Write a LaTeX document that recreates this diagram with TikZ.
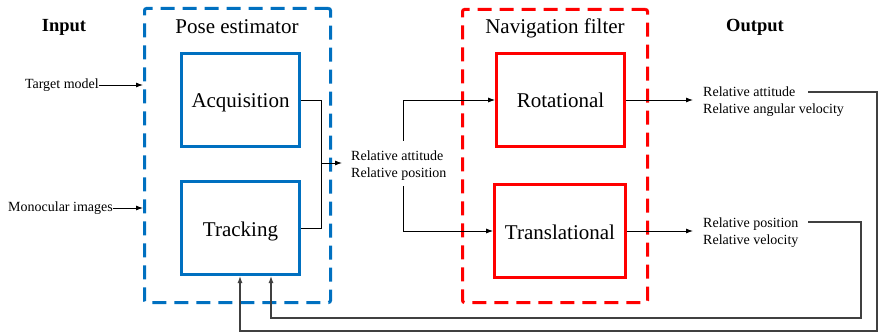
\documentclass[tikz,border=0pt]{standalone}
\usepackage{fontspec}
\setmainfont{Liberation Serif}
\usetikzlibrary{arrows.meta}
\definecolor{peblue}{HTML}{0070C0}
\definecolor{nfred}{HTML}{FF0000}
\definecolor{fbgray}{HTML}{404040}
\tikzset{
  group/.style={draw=#1, line width=3pt, dash pattern=on 14pt off 8pt, rounded corners=2pt, inner sep=0pt},
  block/.style={draw=#1, line width=3.2pt, inner sep=0pt, text height=16pt, text depth=0pt, font=\fontsize{21}{25}\selectfont},
  title/.style={font=\fontsize{21}{25}\selectfont, inner sep=0pt, anchor=base},
  header/.style={font=\fontsize{18.5}{22}\selectfont\bfseries, inner sep=0pt, anchor=base},
  small/.style={font=\fontsize{14}{17}\selectfont, align=left},
  tip/.style={-{Latex[length=7pt,width=5pt]}},
  conn/.style={line width=0.9pt, tip},
  wire/.style={line width=0.9pt},
  feed/.style={draw=fbgray, line width=1.2pt},
}
\begin{document}
\begin{tikzpicture}[x=1pt, y=-1pt]
\useasboundingbox (0,0) rectangle (878,334);

% group frames
\node[group=peblue, minimum width=186pt, minimum height=294pt] (pose) at (237.5,155.5) {};
\node[group=nfred, minimum width=185pt, minimum height=293pt] (nav) at (555,156) {};

% titles and headers
\node[title] (posetitle) at (237,34) {Pose estimator};
\node[title] (navtitle) at (555,34) {Navigation filter};
\node[header] (input) at (64,32) {Input};
\node[header] (output) at (755,32) {Output};

% blocks
\node[block=peblue, minimum width=118pt, minimum height=93pt] (acq) at (240.5,100) {Acquisition};
\node[block=peblue, minimum width=118pt, minimum height=93pt] (trk) at (240.5,228) {Tracking};
\node[block=nfred, minimum width=127.5pt, minimum height=92.5pt] (rot) at (560.5,100) {Rotational};
\node[block=nfred, minimum width=130.5pt, minimum height=92.5pt] (trans) at (560,231) {Translational};

% inputs
\node[small, anchor=east, inner sep=0pt] (tm) at (99,85) {Target model};
\node[small, anchor=east, inner sep=0pt] (mono) at (113,208) {Monocular images};
\draw[conn] (tm.east) -- (tm.east -| pose.west);
\draw[conn] (mono.east) -- (mono.east -| pose.west);

% pose estimator output
\node[small, anchor=west, inner xsep=9pt, inner ysep=0pt] (mid) at (342,165.5) {Relative attitude\\Relative position};
\coordinate (join) at (321,163);
\draw[wire] (acq.east) -- (321,100) -- (321,228) -- (trk.east);
\draw[conn] (join) -- (mid.west |- join);

% distribution to the filter blocks
\coordinate (brU) at (403,141);
\coordinate (brL) at (403,186);
\draw[conn] (brU) |- (rot.west);
\draw[conn] (brL) |- (trans.west);

% filter outputs
\node[small, anchor=west, inner xsep=10pt, inner ysep=0pt] (outR) at (693,101.5) {Relative attitude\\Relative angular velocity};
\node[small, anchor=west, inner xsep=10pt, inner ysep=0pt] (outT) at (693,232.5) {Relative position\\Relative velocity};
\draw[conn] (rot.east) -- (outR.west |- rot.east);
\draw[conn] (trans.east) -- (outT.west |- trans.east);

% feedback to tracking
\coordinate (fbA) at (808,92);
\coordinate (fbB) at (808,222);
\draw[feed, tip] (fbA) -- (877,92) -- (877,331) -- (240,331) -- (240,276);
\draw[feed, tip] (fbB) -- (861,222) -- (861,318) -- (271,318) -- (271,276);
\end{tikzpicture}
\end{document}
